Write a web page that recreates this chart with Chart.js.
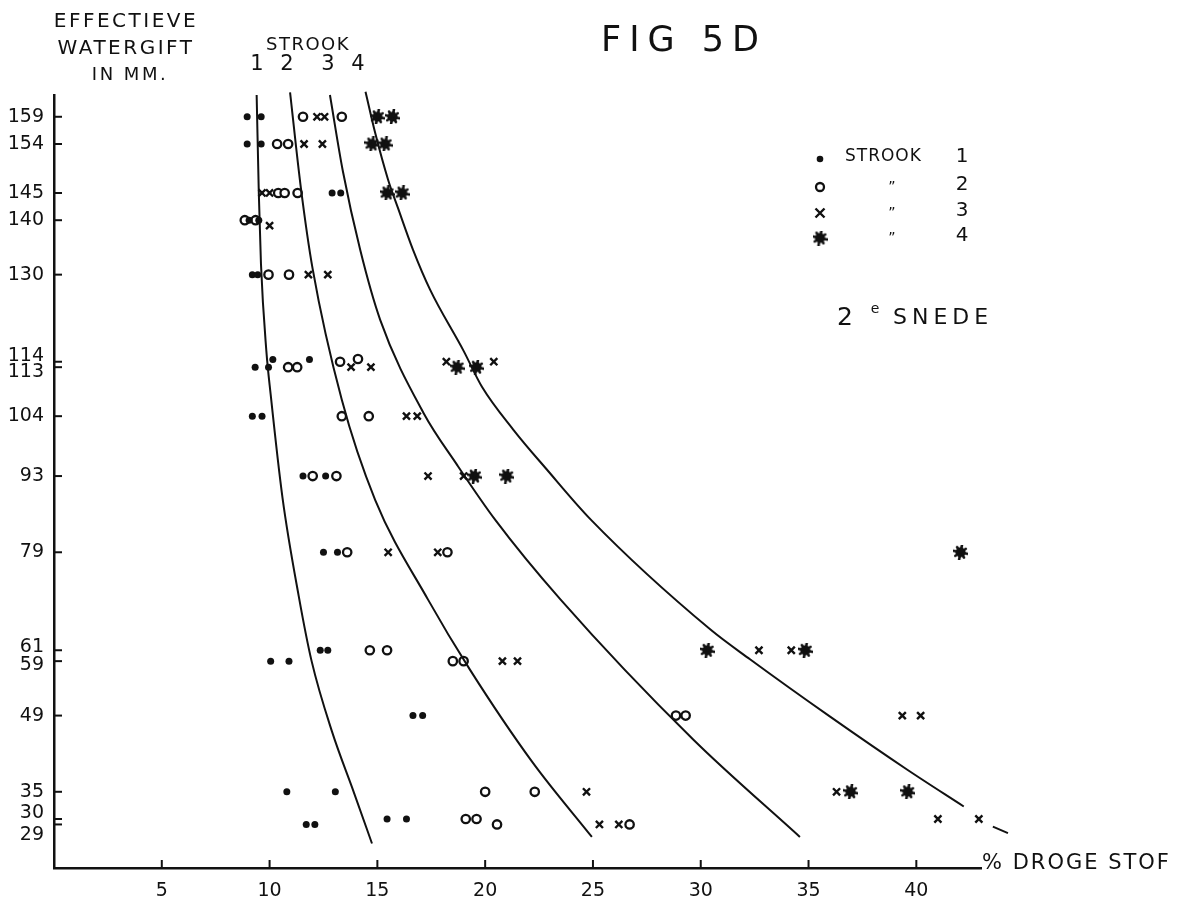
<!DOCTYPE html>
<html>
<head>
<meta charset="utf-8">
<title>FIG 5D</title>
<script src="https://cdn.jsdelivr.net/npm/chart.js@4.4.1/dist/chart.umd.min.js"></script>
<style>
  html, body { margin: 0; padding: 0; background: #ffffff; }
  #wrap { position: relative; width: 1182px; height: 906px; }
</style>
</head>
<body>
<div id="wrap"><canvas id="c"></canvas></div>
<script>
// Axis ticks
const xTicks = [5, 10, 15, 20, 25, 30, 35, 40];
const yTicks = [159, 154, 145, 140, 130, 114, 113, 104, 93, 79, 61, 59, 49, 35, 30, 29];

// Measurements: [% droge stof, effectieve watergift mm]
const strook1 = [
  [8.96, 159], [9.61, 159],
  [8.96, 154], [9.61, 154],
  [12.9, 145], [13.3, 145],
  [9.05, 140], [9.5, 140],
  [9.2, 130], [9.45, 130],
  [9.33, 113], [9.95, 113], [10.15, 114.4], [11.85, 114.4],
  [9.2, 104], [9.65, 104],
  [11.55, 93], [12.6, 93],
  [12.5, 79], [13.15, 79],
  [12.35, 61], [12.7, 61],
  [10.05, 59], [10.9, 59],
  [16.65, 49], [17.1, 49],
  [10.8, 35], [13.05, 35],
  [15.45, 30], [16.35, 30],
  [11.7, 29], [12.1, 29]
];
const strook2 = [
  [11.55, 159], [13.35, 159],
  [10.35, 154], [10.86, 154],
  [10.4, 145], [10.7, 145], [11.3, 145],
  [8.85, 140], [9.35, 140],
  [9.95, 130], [10.9, 130],
  [10.86, 113], [11.28, 113], [13.27, 114], [14.1, 114.5],
  [13.35, 104], [14.6, 104],
  [12.0, 93], [13.1, 93],
  [13.6, 79], [18.25, 79],
  [14.65, 61], [15.45, 61],
  [18.5, 59], [19.0, 59],
  [28.85, 49], [29.3, 49],
  [20.0, 35], [22.3, 35],
  [19.1, 30], [19.6, 30],
  [20.55, 29], [26.7, 29]
];
const strook3 = [
  [12.2, 159], [12.55, 159],
  [11.6, 154], [12.45, 154],
  [9.65, 145], [10.0, 145],
  [10.0, 139],
  [11.8, 130], [12.7, 130],
  [13.78, 113], [14.7, 113], [18.2, 114], [20.4, 114],
  [16.35, 104], [16.85, 104],
  [17.35, 93], [19.0, 93],
  [15.5, 79], [17.8, 79],
  [32.7, 61], [34.2, 61],
  [20.8, 59], [21.5, 59],
  [39.35, 49], [40.2, 49],
  [24.7, 35], [36.3, 35],
  [41.0, 30], [42.9, 30],
  [25.3, 29], [26.2, 29]
];
const strook4 = [
  [15.0, 159], [15.7, 159],
  [14.75, 154], [15.36, 154],
  [15.45, 145], [16.15, 145],
  [18.7, 113], [19.6, 113],
  [19.5, 93], [21.0, 93],
  [42.05, 79],
  [30.3, 61], [34.85, 61],
  [36.95, 35], [39.6, 35]
];

// Hand-fitted curves, one per strook
const curve1 = [[9.4, 163], [9.5, 145], [9.6, 132], [9.85, 116], [10.05, 108], [10.6, 89], [11.35, 71], [11.95, 59], [12.9, 46], [13.9, 35], [14.75, 25.5]];
const curve2 = [[10.95, 163.5], [11.45, 146], [12.0, 131], [13.35, 107], [14.9, 88.6], [17.35, 70.3], [19.3, 57.4], [22.2, 40.4], [24.95, 26.7]];
const curve3 = [[12.8, 163], [13.4, 149], [14.2, 134.6], [15.13, 121.7], [17.14, 104.6], [18.69, 95.1], [20.46, 85], [23.5, 70.3], [29.65, 44.6], [34.6, 26.7]];
const curve4 = [[14.45, 163.6], [14.9, 156], [15.5, 147.4], [15.95, 142.3], [16.65, 134.6], [17.45, 127.2], [19.0, 116], [19.85, 109.4], [21.31, 101.5], [22.86, 94.2], [24.9, 85], [30.45, 64.8], [32.3, 59.3], [36.0, 48.8], [39.6, 39], [42.2, 32.3]];
const curve4Tail = [[43.55, 28.6], [44.25, 27.4]];

const ink = '#111111';
const FONT = '"DejaVu Sans", "Liberation Sans", sans-serif';
const toXY = a => a.map(p => ({ x: p[0], y: p[1] }));

// Blot-like star marker for strook 4
function makeStar(size) {
  const cv = document.createElement('canvas');
  cv.width = size; cv.height = size;
  const g = cv.getContext('2d');
  const c = size / 2;
  g.fillStyle = ink; g.strokeStyle = ink;
  g.beginPath(); g.arc(c, c, size * 0.34, 0, Math.PI * 2); g.fill();
  g.lineWidth = 2.6; g.lineCap = 'round';
  for (let i = 0; i < 8; i++) {
    const a = i * Math.PI / 4 + 0.2;
    const r = i % 2 ? size * 0.42 : size * 0.47;
    g.beginPath(); g.moveTo(c, c); g.lineTo(c + r * Math.cos(a), c + r * Math.sin(a)); g.stroke();
  }
  return cv;
}
const starImg = makeStar(15);

const pointSets = [
  { data: toXY(strook1), pointStyle: 'circle', pointRadius: 3.5, pointBackgroundColor: ink, pointBorderColor: ink, pointBorderWidth: 0 },
  { data: toXY(strook2), pointStyle: 'circle', pointRadius: 4.2, pointBackgroundColor: '#ffffff', pointBorderColor: ink, pointBorderWidth: 2.3 },
  { data: toXY(strook3), pointStyle: 'crossRot', pointRadius: 5, pointBorderColor: ink, pointBorderWidth: 2.4 },
  { data: toXY(strook4), pointStyle: starImg, pointRadius: 7 }
].map(d => Object.assign({ showLine: false, clip: false }, d));

const curveSets = [curve1, curve2, curve3, curve4, curve4Tail].map(c => ({
  data: toXY(c), showLine: true, pointRadius: 0, borderColor: ink, borderWidth: 2,
  cubicInterpolationMode: 'monotone', fill: false, clip: false
}));

function txt(ctx, s, x, y, size, align, spacing) {
  ctx.font = size + 'px ' + FONT;
  ctx.textAlign = align || 'left';
  ctx.textBaseline = 'middle';
  ctx.letterSpacing = (spacing || 0) + 'px';
  ctx.fillText(s, x, y);
  ctx.letterSpacing = '0px';
}

function marker(ctx, kind, x, y) {
  ctx.save();
  ctx.fillStyle = ink; ctx.strokeStyle = ink;
  if (kind === 1) { ctx.beginPath(); ctx.arc(x, y, 3.3, 0, Math.PI * 2); ctx.fill(); }
  if (kind === 2) { ctx.lineWidth = 2.3; ctx.beginPath(); ctx.arc(x, y, 4, 0, Math.PI * 2); ctx.stroke(); }
  if (kind === 3) {
    ctx.lineWidth = 2.4; const r = 4.5;
    ctx.beginPath(); ctx.moveTo(x - r, y - r); ctx.lineTo(x + r, y + r);
    ctx.moveTo(x + r, y - r); ctx.lineTo(x - r, y + r); ctx.stroke();
  }
  if (kind === 4) { ctx.drawImage(starImg, x - 7.5, y - 7.5); }
  ctx.restore();
}

const decor = {
  id: 'decor',
  afterDraw(chart) {
    const { ctx, chartArea: a } = chart;
    const xs = chart.scales.x, ys = chart.scales.y;
    ctx.save();
    ctx.strokeStyle = ink; ctx.fillStyle = ink; ctx.lineWidth = 2;

    // tick marks on both axes
    yTicks.forEach(v => {
      const py = ys.getPixelForValue(v);
      ctx.beginPath(); ctx.moveTo(a.left, py); ctx.lineTo(a.left + 8, py); ctx.stroke();
    });
    xTicks.forEach(v => {
      const px = xs.getPixelForValue(v);
      ctx.beginPath(); ctx.moveTo(px, a.bottom); ctx.lineTo(px, a.bottom - 8); ctx.stroke();
    });

    // y tick labels, pairs that sit close together are spread apart
    const spread = { 114: -6, 113: 5, 61: -3, 59: 4, 30: -6, 29: 11 };
    yTicks.forEach(v => {
      txt(ctx, String(v), a.left - 10, ys.getPixelForValue(v) + (spread[v] || 0), 19, 'right', 0);
    });

    // axis captions
    txt(ctx, 'EFFECTIEVE', 126, 22, 20, 'center', 2.5);
    txt(ctx, 'WATERGIFT', 126, 49, 20, 'center', 2.5);
    txt(ctx, 'IN MM.', 130, 75, 18, 'center', 2.5);
    txt(ctx, '% DROGE STOF', 982, 864, 21, 'left', 2);

    // strook numbering above the curves
    txt(ctx, 'STROOK', 308, 45, 18, 'center', 1.5);
    [['1', 257], ['2', 287], ['3', 328], ['4', 358]].forEach(([s, px]) => txt(ctx, s, px, 65, 21, 'center', 0));

    // figure title
    txt(ctx, 'FIG 5D', 601, 42, 35, 'left', 8);

    // key
    const rows = [[1, 159, '1'], [2, 187, '2'], [3, 213, '3'], [4, 238, '4']];
    rows.forEach(([k, py, n], i) => {
      marker(ctx, k, 820, py);
      if (i === 0) txt(ctx, 'STROOK', 845, py - 2, 17, 'left', 1);
      else txt(ctx, '\u201D', 892, py, 14, 'center', 0);
      txt(ctx, n, 962, py - 2, 20, 'center', 0);
    });

    // cutting number
    txt(ctx, '2', 845, 318, 25, 'center', 0);
    txt(ctx, 'e', 875, 309, 14, 'center', 0);
    txt(ctx, 'SNEDE', 893, 318, 22, 'left', 5);
    ctx.restore();
  }
};

new Chart(document.getElementById('c'), {
  type: 'scatter',
  data: { datasets: curveSets.concat(pointSets) },
  options: {
    responsive: true,
    maintainAspectRatio: false,
    animation: false,
    layout: { padding: { left: 54, right: 201, top: 95, bottom: 0 } },
    plugins: { legend: { display: false }, tooltip: { enabled: false } },
    scales: {
      x: {
        type: 'linear', min: 0, max: 43,
        afterBuildTicks: s => { s.ticks = xTicks.map(v => ({ value: v })); },
        afterFit: s => { s.height = 38; },
        grid: { display: false, drawTicks: false },
        border: { display: true, color: ink, width: 2.5 },
        ticks: { color: ink, font: { family: FONT, size: 19 }, padding: 12, autoSkip: false, maxRotation: 0 }
      },
      y: {
        type: 'linear', min: 21, max: 163,
        afterBuildTicks: s => { s.ticks = yTicks.map(v => ({ value: v })); },
        afterFit: s => { s.width = 0; },
        grid: { display: false, drawTicks: false },
        border: { display: true, color: ink, width: 2.5 },
        ticks: { display: false }
      }
    }
  },
  plugins: [decor]
});
</script>
</body>
</html>
